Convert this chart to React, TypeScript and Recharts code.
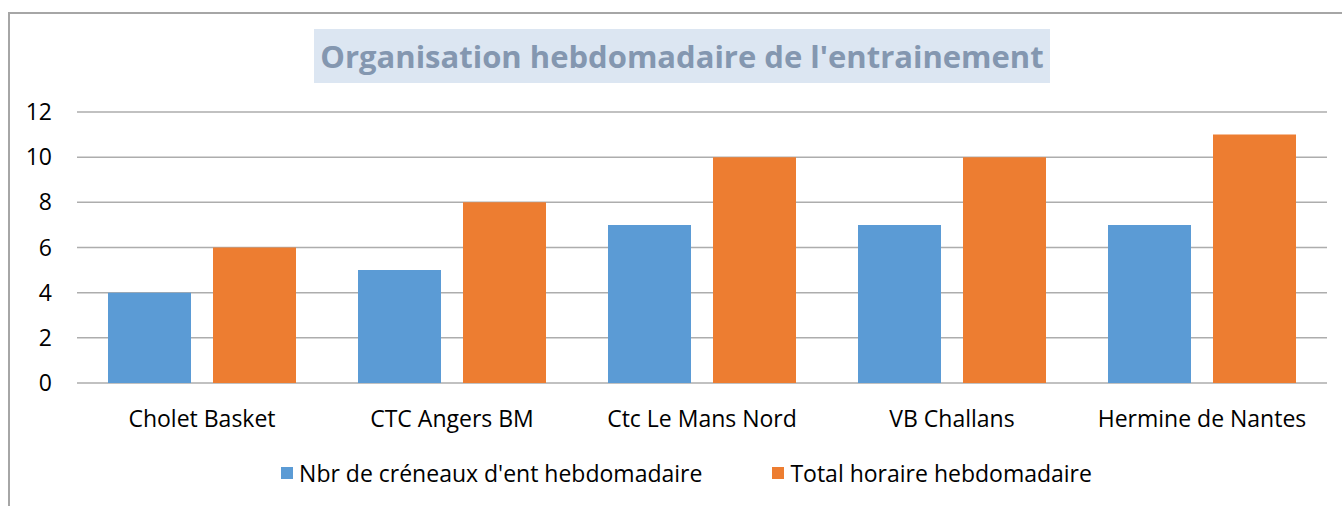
import { BarChart, Bar, XAxis, YAxis, CartesianGrid, Legend } from "recharts"

const clubs = ["Cholet Basket", "CTC Angers BM", "Ctc Le Mans Nord", "VB Challans", "Hermine de Nantes"]
const creneaux = [4, 5, 7, 7, 7]
const totalHoraire = [6, 8, 10, 10, 11]
const yTicks = [0, 2, 4, 6, 8, 10, 12]

const data = clubs.map((club, i) => ({
  club,
  creneaux: creneaux[i],
  total: totalHoraire[i],
}))

const font = "'Open Sans', sans-serif"

function LegendBox({ payload }: any) {
  return (
    <div style={{ height: 50, display: "flex", justifyContent: "center", paddingLeft: 46, fontFamily: font }}>
      {(payload || []).map((entry: any, i: number) => (
        <div
          key={entry.value}
          style={{ display: "flex", alignItems: "center", height: 34, marginRight: i === 0 ? 70 : 0 }}
        >
          <span style={{ width: 12, height: 12, background: entry.color, marginRight: 6, display: "inline-block" }} />
          <span style={{ fontSize: 23, color: "#000" }}>{entry.value}</span>
        </div>
      ))}
    </div>
  )
}

export default function App() {
  return (
    <div style={{ position: "absolute", left: 0, top: 0, width: 1342, height: 506, background: "#fff", fontFamily: font }}>
      <div
        style={{
          position: "absolute",
          left: 8,
          top: 12,
          right: 0,
          bottom: 0,
          borderTop: "2px solid #a6a6a6",
          borderLeft: "2px solid #a6a6a6",
        }}
      />
      <div
        style={{
          position: "absolute",
          left: 314,
          top: 29,
          width: 736,
          height: 54,
          background: "#dce6f2",
          color: "#8497b0",
          fontWeight: 700,
          fontSize: 31,
          lineHeight: "54px",
          textAlign: "center",
          whiteSpace: "nowrap",
        }}
      >
        Organisation hebdomadaire de l'entrainement
      </div>
      <div style={{ position: "absolute", left: 0, top: 0 }}>
        <BarChart
          width={1342}
          height={506}
          data={data}
          margin={{ top: 112, right: 15, left: 0, bottom: 0 }}
          barCategoryGap={31}
          barGap={22}
        >
          <CartesianGrid vertical={false} stroke="#adadad" strokeWidth={1.5} />
          <XAxis
            dataKey="club"
            axisLine={false}
            tickLine={false}
            tickSize={0}
            tickMargin={28}
            height={73}
            tick={{ fontSize: 23, fill: "#000", fontFamily: font }}
          />
          <YAxis
            domain={[0, 12]}
            ticks={yTicks}
            axisLine={false}
            tickLine={false}
            tickSize={0}
            tickMargin={25}
            width={77}
            tick={{ fontSize: 23, fill: "#000", fontFamily: font }}
          />
          <Legend content={<LegendBox />} />
          <Bar dataKey="creneaux" name="Nbr de créneaux d'ent hebdomadaire" fill="#5b9bd5" isAnimationActive={false} />
          <Bar dataKey="total" name="Total horaire hebdomadaire" fill="#ed7d31" isAnimationActive={false} />
        </BarChart>
      </div>
    </div>
  )
}
